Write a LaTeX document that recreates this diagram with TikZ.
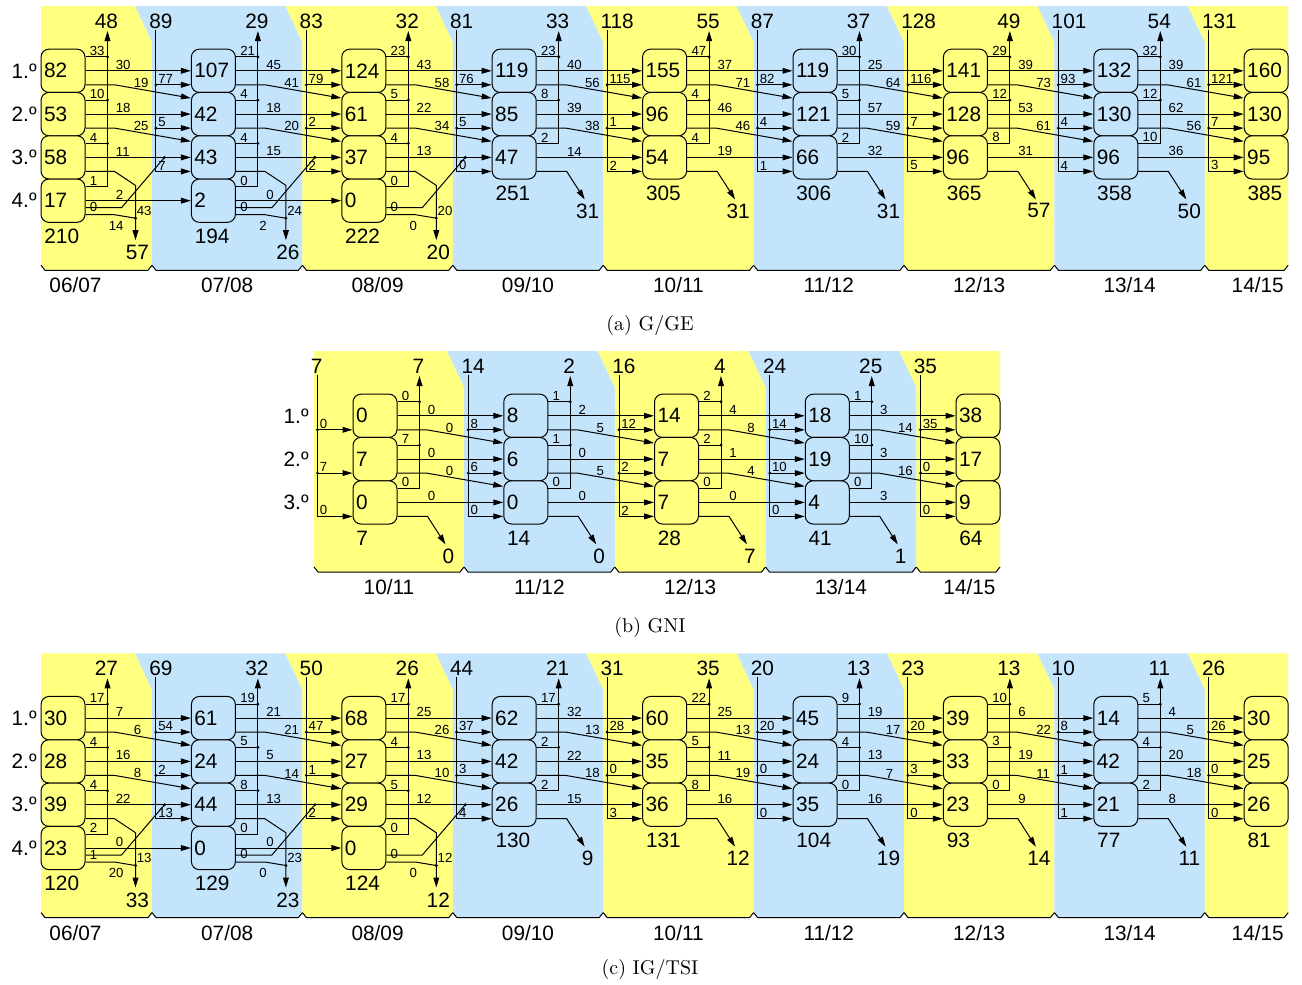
\documentclass[tikz,border=0pt]{standalone}
\usepackage{fontspec}
\setsansfont{Liberation Sans}
\usetikzlibrary{arrows.meta, calc}

\definecolor{bandYellow}{RGB}{255,255,128}
\definecolor{bandBlue}{RGB}{196,228,252}

\newcommand{\bigFont}{\sffamily\fontsize{10.4}{12}\selectfont}
\newcommand{\smallFont}{\sffamily\fontsize{6.6}{7.5}\selectfont}

\tikzset{
  flowLine/.style={line width=0.5pt, draw=black},
  flowArrow/.style={flowLine, -{Triangle[length=5pt, width=2.9pt]}},
  flowDot/.style={circle, fill=black, inner sep=0pt, minimum size=1.6pt},
  % caixas dos anos curriculares
  yearBox/.style={draw=black, line width=0.5pt, rounded corners=4pt,
    minimum height=21.65pt, inner xsep=1.5pt, inner ysep=0pt,
    text width=19pt, align=left, font=\bigFont},
  bigNum/.style={inner sep=0pt, font=\bigFont},
  smallNum/.style={inner sep=0.5pt, font=\smallFont},
  capText/.style={inner sep=0pt, font=\rmfamily\fontsize{10}{12}\selectfont}
}

\def\colStep{150.4}

% --- faixas de fundo e anos lectivos ---
% #1 borda esquerda, #2 x da 1.a caixa, #3 colunas, #4 linha de base, #5 1.o ano
\newcommand{\panelBands}[5]{
  \foreach \k in {1,...,#3} {
    \pgfmathsetmacro{\xa}{\k==1 ? #1 : #2+\colStep*(\k-2)+111}
    \pgfmathsetmacro{\xb}{\k==#3 ? #2+\colStep*(#3-1)+44 : #2+\colStep*(\k-1)+111}
    \pgfmathsetmacro{\ta}{\k==1 ? 0 : 17}
    \pgfmathsetmacro{\tb}{\k==#3 ? 0 : 17}
    \pgfmathsetmacro{\yx}{(\k==1 && #1==#2) ? \xa+34.5 : (\k==#3 ? \xb-30.5 : (\xa+\xb)/2)}
    \pgfmathtruncatemacro{\ya}{#5+\k-1}
    \pgfmathtruncatemacro{\yb}{#5+\k}
    \pgfmathtruncatemacro{\odd}{mod(\k,2)}
    \ifnum\odd=1 \def\bandCol{bandYellow}\else\def\bandCol{bandBlue}\fi
    \fill[fill=\bandCol] (\xa,#4-5) -- (\xa,36) -- (\xa-\ta,0) -- (\xb-\tb,0) -- (\xb,36)
      -- (\xb,#4-5) -- (\xb-4,#4) -- (\xa+4,#4) -- cycle;
    \draw[flowLine] (\xa,#4-5) -- (\xa+4,#4) -- (\xb-4,#4) -- (\xb,#4-5);
    \node[bigNum] at (\yx,#4+15) {\ifnum\ya<10 0\fi\ya/\ifnum\yb<10 0\fi\yb};
  }
}

% --- legendas dos anos curriculares ---
\newcommand{\rowLabels}[3]{% #1 painel, #2 x, #3 n.o de anos
  \foreach \r in {1,...,#3}
    \node[bigNum, anchor=east] (#1-ano\r) at (#2,{64.8+43.3*(\r-1)}) {\r.º};
}

% --- caixas de uma coluna ---
% #1 painel, #2 coluna, #3 x esquerdo, #4 valores, #5 total
\newcommand{\yearColumn}[5]{
  \pgfmathtruncatemacro{\odd}{mod(#2,2)}
  \ifnum\odd=1 \def\boxCol{bandYellow}\else\def\boxCol{bandBlue}\fi
  \foreach \v [count=\r] in {#4} {
    \node[yearBox, fill=\boxCol] (#1-#2-\r) at ({#3+22},{64.8+43.3*(\r-1)}) {\v};
    \xdef\lastRow{\r}
  }
  \node[bigNum, anchor=west] (#1-#2-tot) at ({#3+3},{64.8+43.3*(\lastRow-1)+35.6}) {#5};
}

% --- diplomados, coluna com 3 anos ---
\newcommand{\gradThree}[3]{
  \coordinate (#1-#2-g) at ($(#1-#2-3.east)+(48,42)$);
  \draw[flowArrow] ($(#1-#2-3.east)+(0,14)$) -- ++(30,0) -- (#1-#2-g);
  \node[bigNum] (#1-#2-glab) at ($(#1-#2-3.east)+(51,53.5)$) {#3};
}

% --- diplomados, coluna com 4 anos ---
% #3 do 3.o ano, #4 do 4.o ano, #5 total, #6 do 4.o para o 3.o
\newcommand{\gradFour}[6]{
  \coordinate (#1-#2-gtop) at ($(#1-#2-3.east)+(50,28)$);
  \coordinate (#1-#2-gdot) at ($(#1-#2-4.east)+(50,17.5)$);
  \coordinate (#1-#2-gend) at ($(#1-#2-4.east)+(50,39.5)$);
  \coordinate (#1-#2-up) at ($(#1-#2-3.east)+(79,0)$);
  \draw[flowArrow] ($(#1-#2-3.east)+(0,14)$) -- ++(29,0) -- (#1-#2-gtop) -- (#1-#2-gend);
  \draw[flowLine] ($(#1-#2-4.east)+(0,14)$) -- ++(29,0) -- (#1-#2-gdot);
  \draw[flowLine] ($(#1-#2-4.east)+(0,7)$) -- ++(36,0) -- (#1-#2-up);
  \node[flowDot] at (#1-#2-gdot) {};
  \node[flowDot] at (#1-#2-up) {};
  \node[smallNum, anchor=west] at ($(#1-#2-4.east)+(50,10)$) {#3};
  \node[smallNum, anchor=north west] at ($(#1-#2-4.east)+(22,19)$) {#4};
  \node[smallNum, anchor=south west] at ($(#1-#2-4.east)+(3,12.5)$) {#6};
  \node[bigNum] (#1-#2-glab) at ($(#1-#2-4.east)+(52,52)$) {#5};
}

% --- fluxos de saida de uma coluna ---
% #1 painel, #2 coluna, #3 abandonos, #4 repetentes, #5 transitam,
% #6 total de abandonos, #7 diplomados
\newcommand{\outFlow}[7]{
  \pgfmathtruncatemacro{\nk}{#2+1}
  \foreach \v [count=\r] in {#3} {\xdef\nRows{\r}}
  \coordinate (#1-#2-xtop) at ($(#1-#2-1.east |- 0,25)+(22,0)$);
  % abandonos (para cima)
  \foreach \v [count=\r] in {#3} {
    \ifnum\r<\nRows
      \coordinate (#1-#2-x\r) at ($(#1-#2-\r.east)+(22,-14)$);
      \draw[flowLine] ($(#1-#2-\r.east)+(0,-14)$) -- (#1-#2-x\r);
      \node[flowDot] at (#1-#2-x\r) {};
    \fi
    \node[smallNum, anchor=south west] at ($(#1-#2-\r.east)+(3,-14)$) {\v};
  }
  \draw[flowArrow] ($(#1-#2-\nRows.east)+(0,-14)$) -| (#1-#2-xtop);
  \node[bigNum] (#1-#2-xlab) at ($(#1-#2-xtop)+(-1,-10)$) {#6};
  % repetentes
  \foreach \v [count=\r] in {#4} {
    \draw[flowArrow] (#1-#2-\r.east) -- (#1-\nk-\r.west);
    \node[smallNum, anchor=south west] at ($(#1-#2-\r.east)+(29,0)$) {\v};
  }
  % transitam de ano
  \foreach \v [count=\r] in {#5} {
    \pgfmathtruncatemacro{\rn}{\r+1}
    \draw[flowArrow] ($(#1-#2-\r.east)+(0,14)$) -- ++(29,0) -- ($(#1-\nk-\rn.west)+(0,-16)$);
    \node[smallNum, anchor=south west] at ($(#1-#2-\r.east)+(47,18)$) {\v};
  }
  % diplomados
  \ifnum\nRows=4 \gradFour{#1}{#2}#7\else\gradThree{#1}{#2}#7\fi
}

% --- novos alunos numa coluna ---
% #1 painel, #2 coluna, #3 entradas por ano, #4 total
\newcommand{\inFlow}[4]{
  \coordinate (#1-#2-itop) at ($(#1-#2-1.west |- 0,24)+(-35,0)$);
  \foreach \v [count=\r] in {#3} {
    \coordinate (#1-#2-i\r) at ($(#1-#2-\r.west)+(-35,14)$);
    \ifnum\r<3
      \draw[flowArrow] (#1-#2-i\r) -- ($(#1-#2-\r.west)+(0,14)$);
      \node[flowDot] at (#1-#2-i\r) {};
    \fi
    \node[smallNum, anchor=south west] at ($(#1-#2-i\r)+(1,0)$) {\v};
  }
  \draw[flowArrow] (#1-#2-itop) |- ($(#1-#2-3.west)+(0,14)$);
  \node[bigNum, anchor=west] (#1-#2-ilab) at ($(#1-#2-itop)+(-7,-9)$) {#4};
}

\begin{document}
\begin{tikzpicture}[x=0.5pt, y=-0.5pt]
  \useasboundingbox (0,0) rectangle (1302,985);

  %% --- (a) G/GE ---
  \begin{scope}[shift={(0,6)}]
    \def\colStep{150.4}
    \panelBands{41}{41}{9}{264.3}{6}
    \rowLabels{a}{37}{4}
    \yearColumn{a}{1}{41}{82,53,58,17}{210}
    \yearColumn{a}{2}{191.4}{107,42,43,2}{194}
    \yearColumn{a}{3}{341.8}{124,61,37,0}{222}
    \yearColumn{a}{4}{492.2}{119,85,47}{251}
    \yearColumn{a}{5}{642.6}{155,96,54}{305}
    \yearColumn{a}{6}{793}{119,121,66}{306}
    \yearColumn{a}{7}{943.4}{141,128,96}{365}
    \yearColumn{a}{8}{1093.8}{132,130,96}{358}
    \yearColumn{a}{9}{1244.2}{160,130,95}{385}
    % saidas
    \outFlow{a}{1}{33,10,4,1}{30,18,11,2}{19,25}{48}{{43}{14}{57}{0}}
    \outFlow{a}{2}{21,4,4,0}{45,18,15,0}{41,20}{29}{{24}{2}{26}{0}}
    \outFlow{a}{3}{23,5,4,0}{43,22,13}{58,34}{32}{{20}{0}{20}{0}}
    \outFlow{a}{4}{23,8,2}{40,39,14}{56,38}{33}{{31}}
    \outFlow{a}{5}{47,4,4}{37,46,19}{71,46}{55}{{31}}
    \outFlow{a}{6}{30,5,2}{25,57,32}{64,59}{37}{{31}}
    \outFlow{a}{7}{29,12,8}{39,53,31}{73,61}{49}{{57}}
    \outFlow{a}{8}{32,12,10}{39,62,36}{61,56}{54}{{50}}
    % entradas
    \inFlow{a}{2}{77,5,7}{89}
    \inFlow{a}{3}{79,2,2}{83}
    \inFlow{a}{4}{76,5,0}{81}
    \inFlow{a}{5}{115,1,2}{118}
    \inFlow{a}{6}{82,4,1}{87}
    \inFlow{a}{7}{116,7,5}{128}
    \inFlow{a}{8}{93,4,4}{101}
    \inFlow{a}{9}{121,7,3}{131}
  \end{scope}

  %% --- (b) GNI ---
  \begin{scope}[shift={(0,351)}]
    \def\colStep{150.75}
    \panelBands{314}{353}{5}{221}{10}
    \rowLabels{b}{309}{3}
    \yearColumn{b}{1}{353}{0,7,0}{7}
    \yearColumn{b}{2}{503.75}{8,6,0}{14}
    \yearColumn{b}{3}{654.5}{14,7,7}{28}
    \yearColumn{b}{4}{805.25}{18,19,4}{41}
    \yearColumn{b}{5}{956}{38,17,9}{64}
    % saidas
    \outFlow{b}{1}{0,7,0}{0,0,0}{0,0}{7}{{0}}
    \outFlow{b}{2}{1,1,0}{2,0,0}{5,5}{2}{{0}}
    \outFlow{b}{3}{2,2,0}{4,1,0}{8,4}{4}{{7}}
    \outFlow{b}{4}{1,10,0}{3,3,3}{14,16}{25}{{1}}
    % entradas
    \inFlow{b}{1}{0,7,0}{7}
    \inFlow{b}{2}{8,6,0}{14}
    \inFlow{b}{3}{12,2,2}{16}
    \inFlow{b}{4}{14,10,0}{24}
    \inFlow{b}{5}{35,0,0}{35}
  \end{scope}

  %% --- (c) IG/TSI ---
  \begin{scope}[shift={(0,653.3)}]
    \def\colStep{150.4}
    \panelBands{41}{41}{9}{264.3}{6}
    \rowLabels{c}{37}{4}
    \yearColumn{c}{1}{41}{30,28,39,23}{120}
    \yearColumn{c}{2}{191.4}{61,24,44,0}{129}
    \yearColumn{c}{3}{341.8}{68,27,29,0}{124}
    \yearColumn{c}{4}{492.2}{62,42,26}{130}
    \yearColumn{c}{5}{642.6}{60,35,36}{131}
    \yearColumn{c}{6}{793}{45,24,35}{104}
    \yearColumn{c}{7}{943.4}{39,33,23}{93}
    \yearColumn{c}{8}{1093.8}{14,42,21}{77}
    \yearColumn{c}{9}{1244.2}{30,25,26}{81}
    % saidas
    \outFlow{c}{1}{17,4,4,2}{7,16,22,0}{6,8}{27}{{13}{20}{33}{1}}
    \outFlow{c}{2}{19,5,8,0}{21,5,13,0}{21,14}{32}{{23}{0}{23}{0}}
    \outFlow{c}{3}{17,4,5,0}{25,13,12}{26,10}{26}{{12}{0}{12}{0}}
    \outFlow{c}{4}{17,2,2}{32,22,15}{13,18}{21}{{9}}
    \outFlow{c}{5}{22,5,8}{25,11,16}{13,19}{35}{{12}}
    \outFlow{c}{6}{9,4,0}{19,13,16}{17,7}{13}{{19}}
    \outFlow{c}{7}{10,3,0}{6,19,9}{22,11}{13}{{14}}
    \outFlow{c}{8}{5,4,2}{4,20,8}{5,18}{11}{{11}}
    % entradas
    \inFlow{c}{2}{54,2,13}{69}
    \inFlow{c}{3}{47,1,2}{50}
    \inFlow{c}{4}{37,3,4}{44}
    \inFlow{c}{5}{28,0,3}{31}
    \inFlow{c}{6}{20,0,0}{20}
    \inFlow{c}{7}{20,3,0}{23}
    \inFlow{c}{8}{8,1,1}{10}
    \inFlow{c}{9}{26,0,0}{26}
  \end{scope}

  % Legendas
  \node[capText] (capA) at (650,325) {(a) G/GE};
  \node[capText] (capB) at (650,627) {(b) GNI};
  \node[capText] (capC) at (650,969) {(c) IG/TSI};
\end{tikzpicture}
\end{document}
